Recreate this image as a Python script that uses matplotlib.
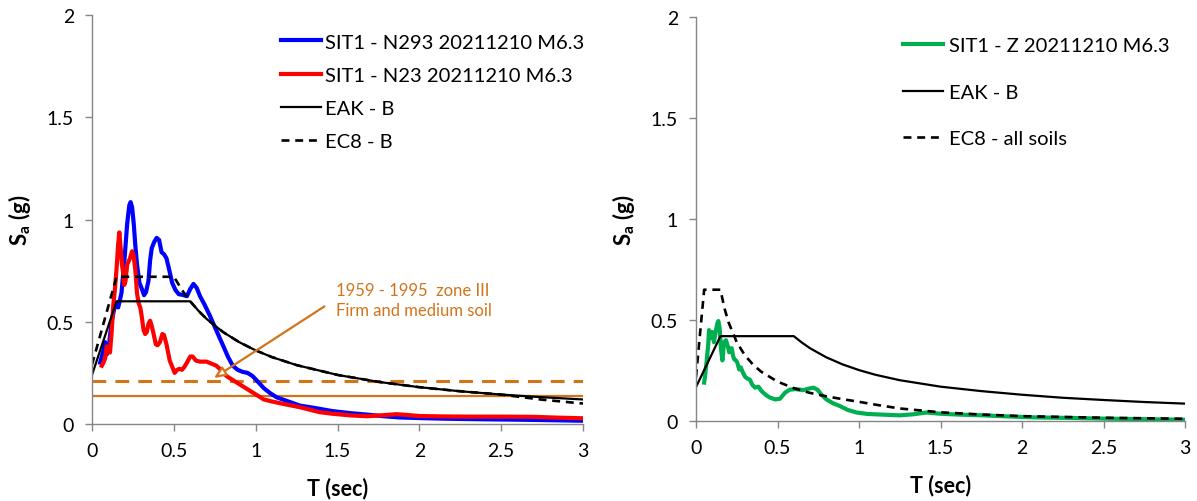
import matplotlib
matplotlib.use("Agg")
import matplotlib.pyplot as plt
import numpy as np

plt.rcParams['font.family'] = ['Lato', 'DejaVu Sans']
plt.rcParams['mathtext.fontset'] = 'custom'
plt.rcParams['mathtext.rm'] = 'Lato'
plt.rcParams['mathtext.bf'] = 'Lato:bold'

# ---- left panel: horizontal components ----
n293_T = [0.05, 0.07, 0.08, 0.09, 0.10, 0.12, 0.14, 0.16, 0.18, 0.20, 0.215, 0.228, 0.236, 0.245,
          0.255, 0.265, 0.275, 0.29, 0.305, 0.318, 0.33, 0.345, 0.355, 0.365, 0.38, 0.395, 0.41,
          0.425, 0.44, 0.455, 0.47, 0.49, 0.51, 0.53, 0.56, 0.58, 0.60, 0.62, 0.64, 0.66, 0.69,
          0.72, 0.75, 0.80, 0.83, 0.86, 0.89, 0.92, 0.95, 0.98, 1.01, 1.05, 1.09, 1.13, 1.2, 1.27,
          1.35, 1.47, 1.58, 1.68, 1.78, 1.88, 2.0, 2.15, 2.3, 2.5, 2.7, 2.85, 3.0]
n293_S = [0.30, 0.36, 0.40, 0.34, 0.36, 0.50, 0.58, 0.57, 0.64, 0.82, 0.98, 1.07, 1.085, 1.06,
          0.98, 0.87, 0.78, 0.69, 0.66, 0.63, 0.645, 0.70, 0.80, 0.86, 0.89, 0.91, 0.90,
          0.84, 0.83, 0.81, 0.76, 0.69, 0.655, 0.635, 0.63, 0.625, 0.66, 0.685, 0.665, 0.625, 0.58,
          0.53, 0.475, 0.385, 0.33, 0.285, 0.265, 0.255, 0.25, 0.235, 0.21, 0.175, 0.15, 0.13, 0.11, 0.09,
          0.08, 0.063, 0.053, 0.046, 0.038, 0.032, 0.029, 0.026, 0.024, 0.022, 0.020, 0.018, 0.016]

n23_T = [0.06, 0.07, 0.08, 0.09, 0.10, 0.11, 0.12, 0.13, 0.14, 0.15, 0.16, 0.167, 0.175, 0.183,
         0.19, 0.197, 0.205, 0.215, 0.232, 0.245, 0.255, 0.265, 0.275, 0.285, 0.295, 0.305, 0.315,
         0.325, 0.335, 0.345, 0.355, 0.365, 0.375, 0.39, 0.40, 0.415, 0.43, 0.44, 0.455, 0.465,
         0.475, 0.49, 0.505, 0.52, 0.535, 0.55, 0.565, 0.58, 0.60, 0.615, 0.635, 0.66, 0.70, 0.73,
         0.76, 0.78, 0.80, 0.83, 0.88, 0.93, 0.97, 1.01, 1.05, 1.1, 1.17, 1.27, 1.39, 1.47, 1.58,
         1.68, 1.78, 1.86, 1.93, 2.0, 2.15, 2.3, 2.5, 2.7, 2.85, 3.0]
n23_S = [0.285, 0.30, 0.32, 0.38, 0.35, 0.35, 0.45, 0.58, 0.66, 0.76, 0.88, 0.937, 0.86, 0.78,
         0.74, 0.68, 0.70, 0.78, 0.81, 0.845, 0.82, 0.75, 0.64, 0.59, 0.57, 0.52, 0.46,
         0.44, 0.45, 0.49, 0.505, 0.48, 0.445, 0.39, 0.385, 0.40, 0.44, 0.435, 0.39, 0.35,
         0.31, 0.28, 0.25, 0.265, 0.27, 0.265, 0.28, 0.30, 0.33, 0.33, 0.31, 0.305, 0.305, 0.295,
         0.285, 0.27, 0.25, 0.23, 0.205, 0.18, 0.16, 0.14, 0.12, 0.11, 0.098, 0.082, 0.058, 0.05, 0.042,
         0.038, 0.043, 0.048, 0.044, 0.039, 0.037, 0.036, 0.036, 0.035, 0.031, 0.028]

eak_h_T = [0, 0.15, 0.6, 0.65, 0.7, 0.8, 0.9, 1.0, 1.1, 1.25, 1.5, 1.75, 2.0, 2.25, 2.5, 2.75, 3.0]
eak_h_S = [0.24, 0.6, 0.6, 0.554, 0.514, 0.45, 0.40, 0.36, 0.327, 0.288, 0.24, 0.206, 0.18, 0.16,
           0.144, 0.131, 0.12]
ec8_h_T = [0, 0.15, 0.5, 0.55, 0.6, 0.65, 0.7, 0.8, 0.9, 1.0, 1.1, 1.25, 1.5, 1.75, 2.0, 2.25,
           2.5, 2.75, 3.0]
ec8_h_S = [0.29, 0.72, 0.72, 0.655, 0.6, 0.554, 0.514, 0.45, 0.40, 0.36, 0.327, 0.288, 0.24, 0.206,
           0.18, 0.16, 0.144, 0.119, 0.10]

old_dashed = 0.21
old_solid = 0.135

# ---- right panel: vertical component ----
z_T = [0.05, 0.055, 0.066, 0.075, 0.08, 0.088, 0.095, 0.10, 0.11, 0.12, 0.13, 0.137, 0.145,
       0.153, 0.162, 0.172, 0.184, 0.195, 0.204, 0.212, 0.219, 0.228, 0.235, 0.245, 0.253, 0.265,
       0.275, 0.285, 0.30, 0.315, 0.33, 0.345, 0.362, 0.383, 0.40, 0.413, 0.435, 0.454, 0.485,
       0.515, 0.546, 0.575, 0.61, 0.658, 0.69, 0.72, 0.745, 0.77, 0.80, 0.84, 0.883, 0.93, 0.986,
       1.05, 1.13, 1.25, 1.33, 1.415, 1.5, 1.6, 1.76, 1.9, 2.07, 2.3, 2.48, 2.75, 3.0]
z_S = [0.19, 0.22, 0.30, 0.38, 0.45, 0.41, 0.43, 0.44, 0.39, 0.44, 0.48, 0.495, 0.46,
       0.36, 0.30, 0.39, 0.40, 0.37, 0.34, 0.36, 0.36, 0.32, 0.305, 0.30, 0.29, 0.255,
       0.265, 0.245, 0.22, 0.21, 0.205, 0.18, 0.165, 0.17, 0.15, 0.14, 0.125, 0.116, 0.107,
       0.11, 0.14, 0.155, 0.158, 0.153, 0.16, 0.165, 0.155, 0.13, 0.107, 0.088, 0.074, 0.055, 0.042,
       0.035, 0.032, 0.028, 0.033, 0.042, 0.036, 0.032, 0.028, 0.023, 0.018, 0.015, 0.012, 0.009, 0.006]

eak_v_T = [0, 0.15, 0.6, 0.65, 0.7, 0.8, 0.9, 1.0, 1.1, 1.25, 1.5, 1.75, 2.0, 2.25, 2.5, 2.75, 3.0]
eak_v_S = [0.168, 0.42, 0.42, 0.388, 0.36, 0.315, 0.28, 0.252, 0.229, 0.202, 0.17, 0.148, 0.13,
           0.115, 0.104, 0.094, 0.086]
ec8_v_T = [0, 0.05, 0.15, 0.175, 0.2, 0.25, 0.3, 0.35, 0.4, 0.5, 0.6, 0.7, 0.8, 0.9, 1.0, 1.1,
           1.25, 1.5, 1.75, 2.0, 2.5, 3.0]
ec8_v_S = [0.217, 0.65, 0.65, 0.557, 0.4875, 0.39, 0.325, 0.279, 0.244, 0.195, 0.1625, 0.139,
           0.122, 0.108, 0.095, 0.081, 0.062, 0.043, 0.032, 0.024, 0.016, 0.011]

xticks = [0, 0.5, 1, 1.5, 2, 2.5, 3]
yticks = [0, 0.5, 1, 1.5, 2]

orange = '#D2741A'
green = '#00B050'
fs = 14
lfs = 14.5

fig = plt.figure(figsize=(11.97, 5.02), dpi=100)
ax1 = fig.add_axes([92 / 1197, 77 / 502, 491 / 1197, 409 / 502])
ax2 = fig.add_axes([696 / 1197, 80 / 502, 489 / 1197, 404 / 502])


def style(ax):
    for s in ['top', 'right']:
        ax.spines[s].set_visible(False)
    for s in ['left', 'bottom']:
        ax.spines[s].set_color('#868686')
        ax.spines[s].set_linewidth(1)
    ax.set_xlim(0, 3)
    ax.set_ylim(0, 2)
    ax.set_xticks(xticks)
    ax.set_xticklabels([f'{v:g}' for v in xticks])
    ax.set_yticks(yticks)
    ax.set_yticklabels([f'{v:g}' for v in yticks])
    ax.tick_params(direction='out', length=5, width=1, color='#868686', labelsize=fs, pad=8)
    ax.set_xlabel('T (sec)', fontsize=15.5, fontweight='bold', labelpad=13)
    ax.set_ylabel(r'$\mathbf{S_a}$ (g)', fontsize=16, fontweight='bold', labelpad=10)


# left
ax1.axhline(old_dashed, color=orange, lw=2.2, dashes=(4.5, 3))
ax1.axhline(old_solid, color=orange, lw=1.6)
ax1.plot(n293_T, n293_S, color='blue', lw=3, solid_joinstyle='round', label='SIT1 - N293 20211210 M6.3')
ax1.plot(n23_T, n23_S, color='red', lw=3, solid_joinstyle='round', label='SIT1 - N23 20211210 M6.3')
ax1.plot(eak_h_T, eak_h_S, color='black', lw=1.6, label='EAK - B')
ax1.plot(ec8_h_T, ec8_h_S, color='black', lw=1.9, dashes=(3, 2.2), label='EC8 - B')
ax1.annotate('', xy=(0.745, 0.225), xytext=(1.42, 0.575),
             arrowprops=dict(arrowstyle='-|>,head_length=0.7,head_width=0.3',
                             ec=orange, fc='white', lw=1.6, shrinkA=0, shrinkB=0))
ax1.text(1.49, 0.655, '1959 - 1995  zone III', color=orange, fontsize=12, va='center')
ax1.text(1.49, 0.557, 'Firm and medium soil', color=orange, fontsize=12, va='center')
style(ax1)
ax1.legend(loc='upper left', bbox_to_anchor=(0.385, 0.955), frameon=False, fontsize=lfs,
           handlelength=2.0, handletextpad=0.2, labelspacing=0.8, borderpad=0, borderaxespad=0)

# right
ax2.plot(z_T, z_S, color=green, lw=3, solid_joinstyle='round', label='SIT1 - Z 20211210 M6.3')
ax2.plot(eak_v_T, eak_v_S, color='black', lw=1.6, label='EAK - B')
ax2.plot(ec8_v_T, ec8_v_S, color='black', lw=1.9, dashes=(3, 2.2), label='EC8 - all soils')
style(ax2)
ax2.legend(loc='upper left', bbox_to_anchor=(0.423, 0.95), frameon=False, fontsize=lfs,
           handlelength=2.0, handletextpad=0.3, labelspacing=1.45, borderpad=0, borderaxespad=0)

fig.savefig('out.png', dpi=100)
